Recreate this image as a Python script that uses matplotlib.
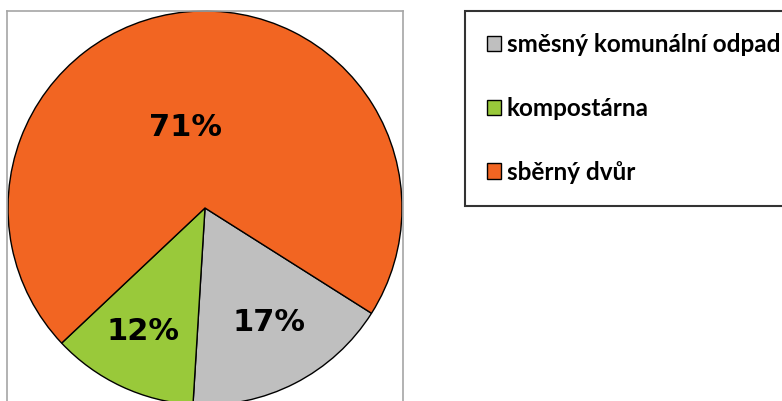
import numpy as np
import matplotlib.pyplot as plt

# data
labels = ['směsný komunální odpad', 'kompostárna', 'sběrný dvůr']
shares = [17, 12, 71]
colors = ['#BFBFBF', '#99C93A', '#F26522']

# label placement: radius and angle shift from the wedge middle
label_dist = [0.665, 0.70, 0.42]
label_shift = [2.2, -1.4, 8.0]

W, H = 782, 401
fig = plt.figure(figsize=(W / 100, H / 100), dpi=100)

# plot area box (pixels): left 7, right 403, top 11, bottom below the image
cx, cy, r = 205, 208, 197
left, right, top, bottom = 7, 403, 11, 410
ax = fig.add_axes([left / W, (H - bottom) / H, (right - left) / W, (bottom - top) / H])

wedges, texts, autotexts = ax.pie(
    shares, colors=colors, startangle=-32.3, counterclock=False,
    autopct='%d%%', wedgeprops=dict(edgecolor='black', linewidth=1.0),
    textprops=dict(fontsize=22, fontweight='bold', family='DejaVu Sans', color='black'))

for w, t, d, s in zip(wedges, autotexts, label_dist, label_shift):
    mid = np.deg2rad((w.theta1 + w.theta2) / 2 + s)
    t.set_position((d * np.cos(mid), d * np.sin(mid)))
    t.set_ha('center')
    t.set_va('center')

ax.set_aspect('auto')
ax.set_xlim((left - cx) / r, (right - cx) / r)
ax.set_ylim((cy - bottom) / r, (cy - top) / r)
ax.set_frame_on(True)
for sp in ax.spines.values():
    sp.set_color('#A6A6A6')
    sp.set_linewidth(1.2)
ax.set_xticks([])
ax.set_yticks([])

leg = fig.legend(wedges, labels, loc='upper left',
                 bbox_to_anchor=(465 / W, 1 - 11 / H),
                 prop=dict(family='Lato', weight='bold', size=17.5),
                 frameon=True, fancybox=False, edgecolor='black',
                 borderpad=0.92, labelspacing=1.67, handlelength=0.58,
                 handleheight=0.58, handletextpad=0.22, borderaxespad=0)
leg.get_frame().set_linewidth(1.5)
for h in leg.legend_handles:
    h.set_linewidth(1.0)
    h.set_edgecolor('black')

fig.savefig('out.png', dpi=100)
